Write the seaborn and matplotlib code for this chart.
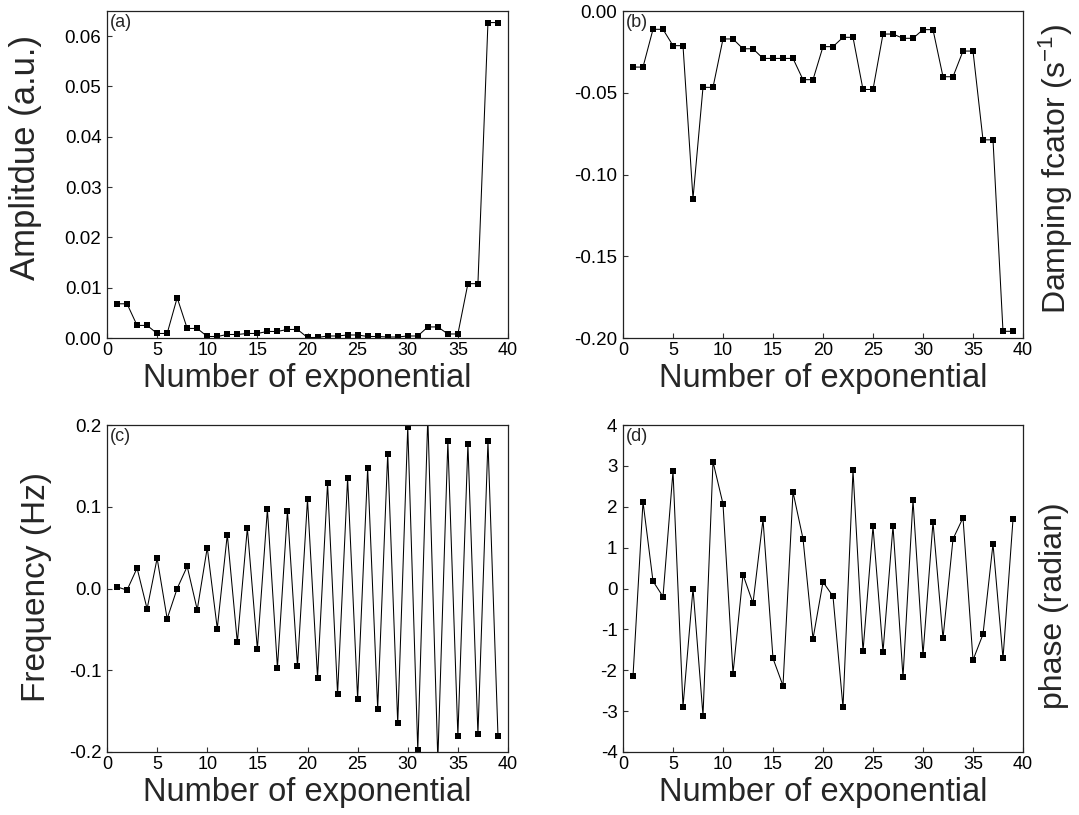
import matplotlib
matplotlib.use("Agg")
import matplotlib.pyplot as plt
import seaborn as sns
import numpy as np
import pandas as pd
from matplotlib.ticker import FormatStrFormatter, MultipleLocator

# ---------------- data ----------------
exp_index = list(range(1, 40))

amplitude = [0.0068, 0.0068, 0.0025, 0.0025, 0.0009, 0.0009, 0.0080, 0.0019, 0.0019,
             0.0003, 0.0003, 0.0007, 0.0007, 0.0009, 0.0009, 0.0013, 0.0013, 0.0017,
             0.0017, 0.0001, 0.0001, 0.0004, 0.0004, 0.0006, 0.0006, 0.0003, 0.0003,
             0.0002, 0.0002, 0.0004, 0.0004, 0.0022, 0.0022, 0.0008, 0.0008, 0.0108,
             0.0108, 0.0627, 0.0627]

damping = [-0.0343, -0.0343, -0.0112, -0.0112, -0.0212, -0.0212, -0.1147, -0.0467, -0.0467,
           -0.0171, -0.0171, -0.0231, -0.0231, -0.0290, -0.0290, -0.0290, -0.0290, -0.0420,
           -0.0420, -0.0218, -0.0218, -0.0161, -0.0161, -0.0480, -0.0480, -0.0141, -0.0141,
           -0.0167, -0.0167, -0.0114, -0.0114, -0.0402, -0.0402, -0.0245, -0.0245, -0.0788,
           -0.0788, -0.1959, -0.1959]

frequency = [0.002, -0.002, 0.025, -0.025, 0.037, -0.037, 0.000, 0.027, -0.026,
             0.050, -0.049, 0.066, -0.066, 0.074, -0.074, 0.097, -0.097, 0.095,
             -0.095, 0.109, -0.109, 0.129, -0.129, 0.135, -0.135, 0.147, -0.147,
             0.165, -0.165, 0.198, -0.198, 0.210, -0.210, 0.180, -0.180, 0.177,
             -0.178, 0.180, -0.180]

phase = [-2.15, 2.12, 0.18, -0.20, 2.87, -2.89, 0.00, -3.11, 3.10, 2.07,
         -2.08, 0.34, -0.36, 1.69, -1.71, -2.38, 2.36, 1.22, -1.23, 0.16,
         -0.19, -2.91, 2.89, -1.54, 1.52, -1.55, 1.53, -2.17, 2.16, -1.63,
         1.63, -1.22, 1.21, 1.73, -1.75, -1.12, 1.09, -1.71, 1.69]

panel_tags = ["(a)", "(b)", "(c)", "(d)"]
x_label = "Number of exponential"
y_labels = ["Amplitdue (a.u.)", r"Damping fcator (s$\mathregular{^{-1}}$)",
            "Frequency (Hz)", "phase (radian)"]
x_ticks = [0, 5, 10, 15, 20, 25, 30, 35, 40]

# ---------------- style ----------------
sns.set_style("ticks")
plt.rcParams.update({
    "font.family": ["Liberation Sans", "DejaVu Sans"],
    "mathtext.fontset": "custom",
    "mathtext.rm": "Liberation Sans",
    "mathtext.it": "Liberation Sans:italic",
    "axes.unicode_minus": False,
    "xtick.direction": "in",
    "ytick.direction": "in",
    "xtick.major.size": 3.5,
    "ytick.major.size": 3.5,
    "xtick.major.width": 0.8,
    "ytick.major.width": 0.8,
    "xtick.color": "#333333",
    "ytick.color": "#333333",
    "xtick.labelcolor": "black",
    "ytick.labelcolor": "black",
    "axes.edgecolor": "#222222",
    "axes.linewidth": 0.9,
})

W, H = 1079, 815
fig = plt.figure(figsize=(W / 100, H / 100), dpi=100)

def px_axes(left, top, right, bottom):
    return fig.add_axes([left / W, 1 - bottom / H, (right - left) / W, (bottom - top) / H])

axes = [
    px_axes(107, 11, 508, 338),
    px_axes(623, 11, 1023, 338),
    px_axes(107, 425, 508, 752),
    px_axes(623, 425, 1023, 752),
]

series = [amplitude, damping, frequency, phase]
ylims = [(0, 0.065), (-0.20, 0.0), (-0.2, 0.2), (-4, 4)]
ysteps = [0.01, 0.05, 0.1, 1]
yfmts = ["%.2f", "%.2f", "%.1f", "%d"]
ylabel_sizes = [25, 23, 24, 23]

for i, ax in enumerate(axes):
    df = pd.DataFrame({"n": exp_index, "v": series[i]})
    sns.lineplot(data=df, x="n", y="v", ax=ax, color="black", linewidth=0.75,
                 marker="s", markersize=5, markeredgewidth=0, estimator=None)
    ax.set_xlim(0, 40)
    ax.set_ylim(*ylims[i])
    ax.set_xticks(x_ticks)
    ax.yaxis.set_major_locator(MultipleLocator(ysteps[i]))
    ax.yaxis.set_major_formatter(FormatStrFormatter(yfmts[i]))
    ax.tick_params(axis="x", labelsize=13, pad=3)
    ax.tick_params(axis="y", labelsize=13.5, pad=4)
    for s in ax.spines.values():
        s.set_visible(True)
    ax.set_xlabel(x_label, fontsize=23.5, labelpad=3)
    ax.set_ylabel(y_labels[i], fontsize=ylabel_sizes[i])
    if i in (1, 3):
        ax.yaxis.set_label_position("right")
    ax.text(0.008, 0.99, panel_tags[i], transform=ax.transAxes, fontsize=13,
            ha="left", va="top")

# y label placements (axes coords)
axes[0].yaxis.set_label_coords(-0.163, 0.553)
axes[2].yaxis.set_label_coords(-0.137, 0.505)
axes[1].yaxis.set_label_coords(1.035, 0.517)
axes[3].yaxis.set_label_coords(1.04, 0.446)

fig.savefig("out.png", dpi=100)
